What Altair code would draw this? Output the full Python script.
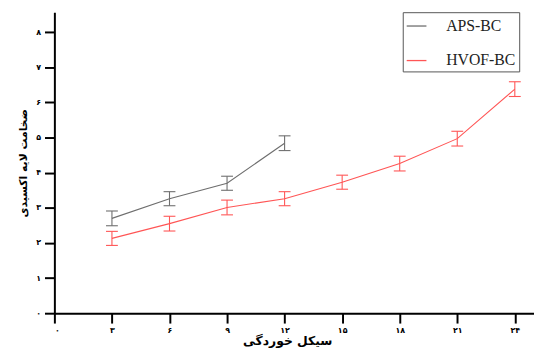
import json
import altair as alt
import pandas as pd

# ---- data ----
series_names = ["APS-BC", "HVOF-BC"]
aps_cycles = [3, 6, 9, 12]
aps_mean = [2.70, 3.26, 3.70, 4.84]
aps_err = [0.21, 0.20, 0.20, 0.21]
hvof_cycles = [3, 6, 9, 12, 15, 18, 21, 24]
hvof_mean = [2.13, 2.55, 3.01, 3.26, 3.73, 4.26, 4.97, 6.38]
hvof_err = [0.20, 0.21, 0.21, 0.20, 0.20, 0.21, 0.21, 0.21]

x_tick_values = [0, 3, 6, 9, 12, 15, 18, 21, 24]
x_tick_labels = ["۰", "۳", "۶", "۹", "۱۲", "۱۵", "۱۸", "۲۱", "۲۴"]
y_tick_values = [0, 1, 2, 3, 4, 5, 6, 7, 8]
y_tick_labels = ["۰", "۱", "۲", "۳", "۴", "۵", "۶", "۷", "۸"]

x_title = "سیکل خوردگی"
y_title = "ضخامت لایه اکسیدی"
colors = ["#6e6e6e", "#ff5555"]

rows = []
for c, m, e in zip(aps_cycles, aps_mean, aps_err):
    rows.append({"series": series_names[0], "cycle": c, "mean": m, "lo": m - e, "hi": m + e})
for c, m, e in zip(hvof_cycles, hvof_mean, hvof_err):
    rows.append({"series": series_names[1], "cycle": c, "mean": m, "lo": m - e, "hi": m + e})
df = pd.DataFrame(rows)

font = "DejaVu Sans"

x_enc = alt.X(
    "cycle:Q",
    scale=alt.Scale(domain=[0, 25], nice=False, zero=True),
    axis=alt.Axis(
        title=x_title,
        values=x_tick_values,
        labelExpr=json.dumps(x_tick_labels, ensure_ascii=False) + "[round(datum.value/3)]",
        grid=False,
        domainColor="black", domainWidth=2,
        tickColor="black", tickWidth=2, tickSize=10,
        labelFont=font, labelFontSize=8, labelFontWeight="bold", labelColor="black",
        labelPadding=4,
        titleFont=font, titleFontSize=12.5, titleFontWeight="bold", titleColor="black",
        titleX=236, titleY=32, titleBaseline="alphabetic",
    ),
)

y_scale = alt.Scale(domain=[0, 8.57], nice=False, zero=True)
y_axis = alt.Axis(
    title=y_title,
    values=y_tick_values,
    labelExpr=json.dumps(y_tick_labels, ensure_ascii=False) + "[round(datum.value)]",
    grid=False,
    domainColor="black", domainWidth=2,
    tickColor="black", tickWidth=2, tickSize=10,
    labelFont=font, labelFontSize=8, labelFontWeight="bold", labelColor="black",
    labelPadding=4,
    titleFont=font, titleFontSize=11, titleFontWeight="bold", titleColor="black",
    titlePadding=7,
)

color_enc = alt.Color(
    "series:N",
    scale=alt.Scale(domain=series_names, range=colors),
    legend=alt.Legend(
        title=None, orient="none", legendX=353, legendY=0,
        strokeColor="#555555", fillColor="white", padding=3,
        symbolType="stroke", symbolSize=400, symbolStrokeWidth=1.3,
        labelFont="Liberation Serif", labelFontSize=16, labelColor="#222222",
        rowPadding=16, labelOffset=19,
    ),
)

base = alt.Chart(df)

line = base.mark_line(strokeWidth=1.1).encode(
    x=x_enc, y=alt.Y("mean:Q", scale=y_scale, axis=y_axis), color=color_enc
)
err = base.mark_rule(strokeWidth=1.1).encode(
    x=x_enc, y=alt.Y("lo:Q", scale=y_scale, axis=y_axis), y2="hi:Q", color=color_enc
)
cap_lo = base.mark_rule(strokeWidth=1.1, xOffset=-6, x2Offset=6).encode(
    x=x_enc, x2="cycle:Q", y=alt.Y("lo:Q", scale=y_scale, axis=y_axis), color=color_enc
)
cap_hi = base.mark_rule(strokeWidth=1.1, xOffset=-6, x2Offset=6).encode(
    x=x_enc, x2="cycle:Q", y=alt.Y("hi:Q", scale=y_scale, axis=y_axis), color=color_enc
)

chart = (
    alt.layer(line, err, cap_lo, cap_hi)
    .properties(
        width=486, height=305,
        autosize=alt.AutoSizeParams(type="none"),
        padding={"left": 47, "top": 2, "right": 0, "bottom": 33},
        background="white",
    )
    .configure_view(stroke=None)
)

chart.save("out.html", embed_options={"renderer": "svg", "actions": False})
